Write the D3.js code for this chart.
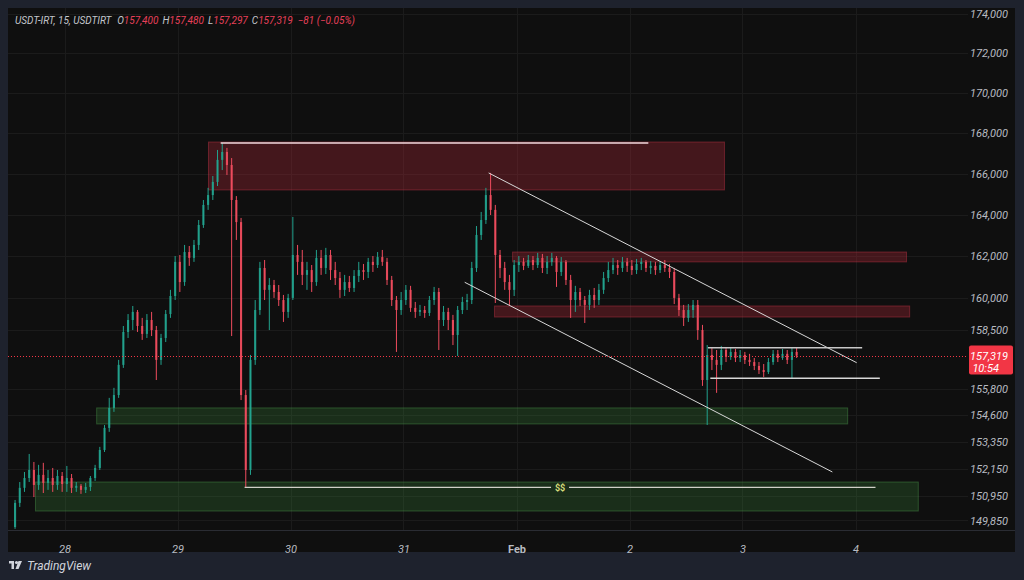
<!DOCTYPE html>
<html><head><meta charset="utf-8">
<script src="https://cdn.jsdelivr.net/npm/d3@7"></script>
<style>
html,body{margin:0;padding:0;background:#1e222d;}
svg{display:block;font-family:Roboto,"Liberation Sans",sans-serif;}
</style></head><body>
<svg id="c" width="1024" height="580"></svg>
<script>
// ---------- DATA ----------
const symbolTitle = "USDT-IRT, 15, USDTIRT";
const headerOHLC = [["O","157,400"],["H","157,480"],["L","157,297"],["C","157,319"]];
const headerChange = "−81 (−0.05%)";
const firstBarStart = "2025-01-27T13:00";   // hourly bars
const ohlc = [
[149560,150760,149480,150630],[150630,151560,150450,151300],[151300,152010,151120,151740],[151740,152820,151560,152100],
[152100,152460,150890,151430],[151430,152330,151210,151880],[151880,152420,151070,151520],[151520,152100,151210,151740],
[151740,152190,151120,151430],[151430,152100,151210,151830],[151830,152010,151120,151470],[151470,152280,151120,151740],
[151740,151920,151070,151300],[151300,151560,151120,151390],[151390,151470,151030,151210],[151210,151520,151070,151340],
[151340,151830,151160,151740],[151740,152330,151610,152190],[152190,153140,152100,153000],[153000,154130,152910,154000],
[154000,155370,153820,154910],[154910,155830,154730,155500],[155500,157120,155370,156890],[156890,158700,156750,158420],
[158420,159260,158140,158980],[158980,159640,158510,159360],[159360,159450,158420,158700],[158700,159080,158050,158330],
[158330,159260,158140,158980],[158980,159360,158230,158510],[158510,158700,156190,157120],[157120,158330,156890,158140],
[158140,159450,157950,159260],[159260,160400,159080,160110],[160110,162010,159920,161730],[161730,162060,160300,160770],
[160770,162540,160590,162200],[162200,162490,161540,161920],[161920,162780,161730,162540],[162540,163740,162300,163500],
[163500,164710,163360,164470],[164470,165300,164230,164950],[164950,165880,164710,165590],[165590,167160,165390,166670],
[166670,167500,166170,167060],[167060,167260,165930,166420],[166420,166760,158230,164710],[164710,164900,162780,163640],
[163640,163840,155270,155500],[155500,155730,151320,152100],[152100,157350,151880,157120],[157120,159920,156890,159450],
[159450,161730,159220,161440],[161440,161820,159920,160400],[160400,160960,158510,160630],[160630,160870,160020,160300],
[160300,160630,159640,159920],[159920,160160,158890,159360],[159360,160210,159080,160020],[160020,163890,159920,162060],
[162060,162540,161110,161730],[161730,162300,160630,161110],[161110,161730,160400,161340],[161340,161580,160300,160770],
[160770,162300,160590,161920],[161920,162300,161110,161440],[161440,162400,161150,162060],[162060,162300,160870,161340],
[161340,161730,160630,160960],[160960,161250,160020,160400],[160400,161110,160110,160770],[160770,161060,160300,160490],
[160490,161340,160300,161060],[161060,161730,160770,161340],[161340,161630,160870,161250],[161250,161920,160960,161730],
[161730,162010,161250,161580],[161580,162200,161440,161960],[161960,162300,161540,161730],[161730,161920,160630,160870],
[160870,161060,159640,159920],[159920,160110,157490,159450],[159450,160300,159220,159920],[159920,160630,159690,160400],
[160400,160590,159360,159550],[159550,159830,159080,159360],[159360,159690,159170,159450],[159450,159640,159080,159310],
[159310,160110,159170,159920],[159920,160540,159690,160300],[160300,160490,157580,158980],[158980,159640,158700,159360],
[159360,159550,158510,158980],[158980,159220,157810,158280],[158280,159640,157300,159450],[159450,160070,159260,159830],
[159830,160210,159450,159920],[159920,161730,159730,161440],[161440,163450,161250,163020],[163020,164130,162780,163740],
[163740,165300,163550,164950],[164950,166030,163980,164230],[164230,164470,159780,162060],[162060,162300,160960,161440],
[161440,161730,160400,160770],[160770,161110,159640,160400],[160400,161820,160110,161580],[161580,162010,161250,161730],
[161730,161920,161340,161540],[161540,162060,161440,161820],[161820,162010,161340,161580],[161580,162160,161440,161920],
[161920,162110,161200,161440],[161440,162010,161150,161730],[161730,162160,161540,161920],[161920,162010,160540,161250],
[161250,161960,161060,161730],[161730,161820,160630,160870],[160870,161110,159080,159920],[159920,160590,159360,160300],
[160300,160490,159640,159920],[159920,160110,158840,159690],[159690,160400,159450,160160],[160160,160490,159550,159920],
[159920,160680,159690,160400],[160400,161250,160210,160960],[160960,161730,160770,161340],[161340,161920,161150,161580],
[161580,161820,161110,161440],[161440,161960,161250,161730],[161730,161920,161250,161540],[161540,161820,161110,161340],
[161340,161870,161150,161630],[161630,161920,161340,161730],[161730,161820,161250,161440],[161440,161770,161150,161540],
[161540,161730,161110,161340],[161340,161770,161200,161580],[161580,161820,161250,161440],[161440,161630,160960,161250],
[161250,161440,159730,160020],[160020,160210,159170,159450],[159450,159690,158700,159080],[159080,159730,158890,159450],
[159450,159920,159080,159690],[159690,159920,158050,158510],[158510,158750,155920,156190],[156190,157810,154130,157350],
[157350,157670,156650,157120],[157120,157580,155600,156890],[156890,157770,156650,157580],[157580,157670,157020,157260],
[157260,157670,157120,157490],[157490,157630,157020,157210],[157210,157580,157020,157350],[157350,157490,156930,157120],
[157120,157400,156840,157020],[157020,157210,156650,156840],[156840,157020,156470,156650],[156650,156930,156330,156560],
[156560,157210,156470,157020],[157020,157580,156890,157400],[157400,157580,157020,157210],[157210,157630,157120,157400],
[157400,157580,156930,157120],[157120,157720,156280,157490],[157490,157670,157210,157319]
];
const priceTicks = [174000,172000,170000,168000,166000,164000,162000,160000,158500,155800,154600,153350,152150,150950,149850];
const dayTicks = ["2025-01-28","2025-01-29","2025-01-30","2025-01-31","2025-02-01","2025-02-02","2025-02-03","2025-02-04"];
const dayLabels = ["28","29","30","31","Feb","2","3","4"];
const viewStart = "2025-01-27T12:00", viewEnd = "2025-02-05T00:00";
const priceTop = 174000, priceRef = 150950;

const supplyZones = [
  {from:"2025-01-29T06:35", to:"2025-02-02T20:10", top:167550, bottom:165200},
  {from:"2025-01-31T23:10", to:"2025-02-04T10:50", top:162200, bottom:161730},
  {from:"2025-01-31T19:20", to:"2025-02-04T11:30", top:159640, bottom:159120}
];
const demandZones = [
  {from:"2025-01-28T06:50", to:"2025-02-03T22:20", top:154910, bottom:154180},
  {from:"2025-01-27T17:50", to:"2025-02-04T13:20", top:151560, bottom:150270}
];
const topHighLine = [["2025-01-29T09:10",167500],["2025-02-02T04:00",167500]];
const upperChannel = [["2025-01-31T18:05",166030],["2025-02-04T00:15",156990]];
const lowerChannel = [["2025-01-31T13:00",160760],["2025-02-03T19:05",152010]];
const rangeTop = [["2025-02-02T16:40",157690],["2025-02-04T01:25",157690]];
const rangeBottom = [["2025-02-02T17:10",156270],["2025-02-04T05:10",156270]];
const ssLine = [["2025-01-29T14:15",151320],["2025-02-04T04:15",151320]];
const ssLabel = "$$";
const lastPrice = 157319, lastPriceText = "157,319", countdown = "10:54";

// ---------- CHART ----------
const svg = d3.select("#c");
const P = {l:8, t:8, r:968, b:530, panelR:1015, panelB:552};
const UP = "#22a38e", DOWN = "#ef4c5e";

svg.append("rect").attr("width",1024).attr("height",580).attr("fill","#1e222d");
svg.append("rect").attr("x",P.l).attr("y",P.t).attr("width",P.panelR-P.l).attr("height",P.panelB-P.t).attr("fill","#0f0f0f");

const x = d3.scaleTime().domain([new Date(viewStart), new Date(viewEnd)]).range([P.l, P.r+0.5]);
const y = d3.scaleLog().domain([priceTop, priceRef]).range([14, 495.7]);

svg.append("defs").append("clipPath").attr("id","plot")
  .append("rect").attr("x",P.l).attr("y",P.t).attr("width",P.r-P.l).attr("height",P.b-P.t);

// grid
const grid = svg.append("g");
grid.selectAll(".hg").data(priceTicks).join("line")
  .attr("x1",P.l).attr("x2",P.r).attr("y1",d=>Math.round(y(d))+0.5).attr("y2",d=>Math.round(y(d))+0.5)
  .attr("stroke","#1b1b1b");
grid.selectAll(".vg").data(dayTicks).join("line")
  .attr("y1",P.t).attr("y2",P.b).attr("x1",d=>Math.round(x(new Date(d+"T00:00")))+0.5).attr("x2",d=>Math.round(x(new Date(d+"T00:00")))+0.5)
  .attr("stroke","#1b1b1b");

const plot = svg.append("g").attr("clip-path","url(#plot)");

// zones
function zone(z, fill, stroke){
  plot.append("rect")
    .attr("x", x(new Date(z.from))).attr("width", x(new Date(z.to)) - x(new Date(z.from)))
    .attr("y", y(z.top)).attr("height", y(z.bottom) - y(z.top))
    .attr("fill", fill).attr("stroke", stroke).attr("stroke-width",1);
}
supplyZones.forEach(z=>zone(z,"rgba(175,38,55,0.33)","rgba(200,55,75,0.42)"));
demandZones.forEach(z=>zone(z,"rgba(60,140,60,0.25)","rgba(80,160,80,0.40)"));

// candles
const t0 = new Date(firstBarStart);
const bars = ohlc.map((d,i)=>({t:d3.timeHour.offset(t0,i), o:d[0], h:d[1], l:d[2], c:d[3]}));
const step = x(d3.timeHour.offset(t0,1)) - x(t0);
const bw = Math.max(1.5, step*0.45);
const cg = plot.append("g");
cg.selectAll("line.w").data(bars).join("line")
  .attr("x1",d=>x(d3.timeMinute.offset(d.t,30))).attr("x2",d=>x(d3.timeMinute.offset(d.t,30)))
  .attr("y1",d=>y(d.h)).attr("y2",d=>y(d.l))
  .attr("stroke",d=>d.c>=d.o?UP:DOWN).attr("stroke-width",1);
cg.selectAll("rect.b").data(bars).join("rect")
  .attr("x",d=>x(d3.timeMinute.offset(d.t,30))-bw/2).attr("width",bw)
  .attr("y",d=>y(Math.max(d.o,d.c))).attr("height",d=>Math.max(1,Math.abs(y(d.o)-y(d.c))))
  .attr("fill",d=>d.c>=d.o?UP:DOWN).attr("opacity",0.9);

// drawn lines
const lineGen = d3.line().x(p=>x(new Date(p[0]))).y(p=>y(p[1]));
function seg(pts, color, w){ plot.append("path").attr("d",lineGen(pts)).attr("fill","none").attr("stroke",color).attr("stroke-width",w); }
seg(topHighLine,"#f0d8dc",1.5);
seg(upperChannel,"#d8d8d8",1);
seg(lowerChannel,"#d8d8d8",1);
seg(rangeTop,"#c8c8c8",1.5);
seg(rangeBottom,"#d8d8d8",1.5);
// SS line with label gap
const sx0 = x(new Date(ssLine[0][0])), sx1 = x(new Date(ssLine[1][0])), sy = y(ssLine[0][1]);
const sm = (sx0+sx1)/2;
plot.append("line").attr("x1",sx0).attr("x2",sm-9).attr("y1",sy).attr("y2",sy).attr("stroke","#d0d0c8").attr("stroke-width",1.2);
plot.append("line").attr("x1",sm+9).attr("x2",sx1).attr("y1",sy).attr("y2",sy).attr("stroke","#d0d0c8").attr("stroke-width",1.2);
plot.append("text").attr("x",sm).attr("y",sy+3.5).attr("text-anchor","middle")
  .attr("font-size",9).attr("font-weight","bold").attr("fill","#d6dc7a").text(ssLabel);

// last price line
const lyl = Math.round(y(lastPrice))+0.5;
plot.append("line").attr("x1",P.l).attr("x2",P.r).attr("y1",lyl).attr("y2",lyl)
  .attr("stroke","#f23645").attr("stroke-width",1).attr("stroke-dasharray","1,2").attr("shape-rendering","crispEdges");

// bottom border
svg.append("line").attr("x1",P.l).attr("x2",P.panelR).attr("y1",P.b+0.5).attr("y2",P.b+0.5).attr("stroke","#2a2c33");

// right axis
const yAxis = d3.axisRight(y).tickValues(priceTicks).tickSize(0).tickPadding(0).tickFormat(d3.format(","));
const ya = svg.append("g").attr("transform",`translate(${P.r},0)`).call(yAxis);
ya.select(".domain").remove();
ya.selectAll("text").attr("x",40).attr("text-anchor","end").attr("fill","#b8bbc2")
  .attr("font-size",11).attr("font-style","italic").attr("font-family","Roboto, 'Liberation Sans', sans-serif");

// last price label
const ly = y(lastPrice);
svg.append("rect").attr("x",969).attr("y",ly-10).attr("width",44).attr("height",29).attr("rx",2).attr("fill","#f23645");
svg.append("text").attr("x",1008).attr("y",ly+4).attr("text-anchor","end").attr("fill","#fff")
  .attr("font-size",11).attr("font-style","italic").text(lastPriceText);
svg.append("text").attr("x",999).attr("y",ly+16).attr("text-anchor","end").attr("fill","#fff")
  .attr("font-size",11).attr("font-style","italic").text(countdown);

// bottom axis
const xAxis = d3.axisBottom(x).tickValues(dayTicks.map(d=>new Date(d+"T00:00"))).tickSize(0).tickPadding(0)
  .tickFormat((d,i)=>dayLabels[i]);
const xa = svg.append("g").attr("transform",`translate(0,${P.b})`).call(xAxis);
xa.select(".domain").remove();
xa.selectAll("text").attr("y",15).attr("fill","#b8bbc2").attr("font-size",11)
  .attr("font-style",(d,i)=>dayLabels[i]==="Feb"?"normal":"italic")
  .attr("font-weight",(d,i)=>dayLabels[i]==="Feb"?"bold":"normal")
  .attr("font-family","Roboto, 'Liberation Sans', sans-serif");

// header
const hdr = svg.append("text").attr("x",15).attr("y",23.5).attr("font-size",10).attr("font-style","italic");
hdr.append("tspan").attr("fill","#c3c6cc").text(symbolTitle);
headerOHLC.forEach((p,i)=>{
  hdr.append("tspan").attr("fill","#c3c6cc").attr("dx", i===0?6:4).text(p[0]);
  hdr.append("tspan").attr("fill","#e8405a").text(p[1]);
});
hdr.append("tspan").attr("fill","#e8405a").attr("dx",5).text(headerChange);

// TradingView watermark
const lg = svg.append("g").attr("transform","translate(9,560)").attr("fill","#d1d4dc");
lg.append("rect").attr("x",0).attr("y",1).attr("width",5).attr("height",2.5);
lg.append("rect").attr("x",2.5).attr("y",1).attr("width",2.5).attr("height",8);
lg.append("circle").attr("cx",7.5).attr("cy",2.5).attr("r",1.6);
lg.append("path").attr("d","M9.5,1 L13,1 L9.5,9 L6.5,9 Z");
svg.append("text").attr("x",27).attr("y",570).attr("fill","#d1d4dc").attr("font-size",12)
  .attr("font-style","italic").text("TradingView");
</script>
</body></html>
